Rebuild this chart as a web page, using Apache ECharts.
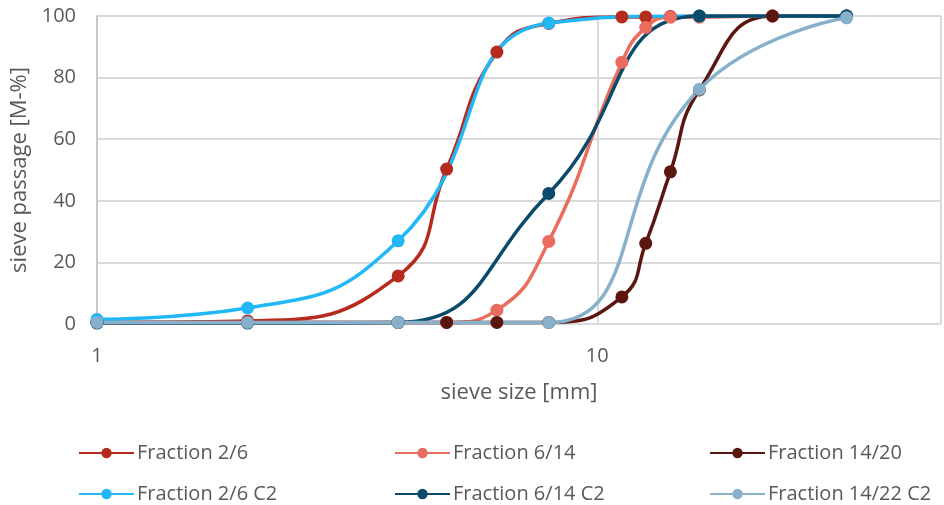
<!DOCTYPE html>
<html>
<head>
<meta charset="utf-8">
<script src="https://cdn.jsdelivr.net/npm/echarts@6/dist/echarts.min.js"></script>
<style>
  html, body { margin: 0; padding: 0; background: #fff; }
  #chart { width: 944px; height: 505px; }
</style>
</head>
<body>
<div id="chart"></div>
<script>
// sieve sizes [mm]
var sieves = [1, 2, 4, 5, 6.3, 8, 11.2, 12.5, 14, 16, 22.4, 31.5]
var sievesC2 = [1, 2, 4, 8, 16, 31.5]

// sieve passage [M-%]
var frac26 = [0.5, 1, 15.6, 50.3, 88.3, 97.6, 99.7, 99.7, 99.8, 99.9, 100, 100]
var frac614 = [0.5, 0.5, 0.5, 0.5, 4.5, 26.8, 85, 96.3, 99.6, 99.6, 100, 100]
var frac1420 = [0.5, 0.5, 0.5, 0.5, 0.5, 0.5, 8.8, 26.2, 49.4, 76, 100, 100]
var frac26C2 = [1.5, 5.2, 27, 97.7, 100, 100]
var frac614C2 = [0.3, 0.3, 0.5, 42.4, 100, 100]
var frac1422C2 = [0.5, 0.5, 0.5, 0.5, 76.2, 99.4]

var yTicks = [0, 20, 40, 60, 80, 100]

var chart = echarts.init(document.getElementById('chart'))
var font = '"Open Sans", sans-serif'

function pairs(xs, ys) {
  return xs.map(function (x, i) { return [x, ys[i]] })
}

function makeSeries(name, xs, ys, color) {
  return {
    name: name,
    type: 'line',
    smooth: true,
    clip: true,
    symbol: 'circle',
    symbolSize: 13,
    lineStyle: { width: 3.5, color: color },
    itemStyle: { color: color },
    emphasis: { disabled: true },
    data: pairs(xs, ys)
  }
}

var series = [
  makeSeries('Fraction 2/6', sieves, frac26, '#b72a1e'),
  makeSeries('Fraction 6/14', sieves, frac614, '#ea6c5f'),
  makeSeries('Fraction 14/20', sieves, frac1420, '#5c1610'),
  makeSeries('Fraction 2/6 C2', sievesC2, frac26C2, '#22b8f7'),
  makeSeries('Fraction 6/14 C2', sievesC2, frac614C2, '#0a4a6a'),
  makeSeries('Fraction 14/22 C2', sievesC2, frac1422C2, '#87b0ca')
]

// legend laid out as 3 columns x 2 rows
var colX = [78, 394, 709]
var rowY = [443, 484]
var legends = series.map(function (s, i) {
  return {
    data: [s.name],
    left: colX[i % 3],
    top: rowY[Math.floor(i / 3)],
    padding: 0,
    itemWidth: 55,
    itemHeight: 13,
    itemGap: 0,
    selectedMode: false,
    textStyle: { fontFamily: font, fontSize: 20, color: '#595959', padding: [0, 0, 0, -2] }
  }
})

chart.setOption({
  animation: false,
  grid: { left: 97, right: -5, top: 16, bottom: 181 },
  legend: legends,
  xAxis: {
    type: 'log',
    logBase: 10,
    min: 1,
    max: Math.pow(10, 852 / 505),
    name: 'sieve size [mm]',
    nameLocation: 'middle',
    nameGap: 58,
    nameTextStyle: { fontFamily: font, fontSize: 22, color: '#595959' },
    axisLine: { show: false },
    axisTick: { show: false },
    axisLabel: {
      margin: 22,
      fontFamily: font,
      fontSize: 20,
      color: '#595959',
      formatter: function (v) {
        var l = Math.log10(v)
        return Math.abs(l - Math.round(l)) < 1e-6 ? String(Math.round(v)) : ''
      }
    },
    splitLine: { show: true, lineStyle: { color: '#d9d9d9', width: 2 } },
    minorTick: { show: false }
  },
  yAxis: {
    type: 'value',
    min: yTicks[0],
    max: yTicks[yTicks.length - 1],
    interval: 20,
    name: 'sieve passage [M-%]',
    nameLocation: 'middle',
    nameRotate: 90,
    nameGap: 60,
    nameTextStyle: { fontFamily: font, fontSize: 22, color: '#595959' },
    axisLine: { show: true, lineStyle: { color: '#c8c8c8', width: 2 } },
    axisTick: { show: false },
    axisLabel: { margin: 21, fontFamily: font, fontSize: 20, color: '#595959' },
    splitLine: { show: true, lineStyle: { color: '#d9d9d9', width: 2 } }
  },
  series: series
})
</script>
</body>
</html>
